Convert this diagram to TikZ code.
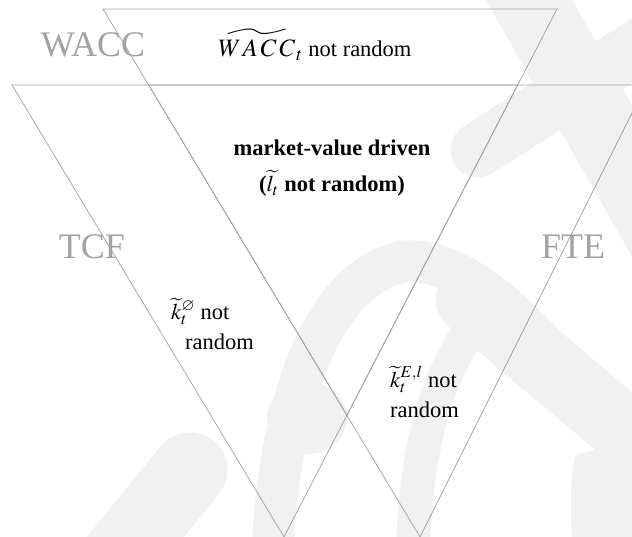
\documentclass[tikz,border=0pt]{standalone}
\usepackage{amssymb}
\usepackage{mathptmx}
\usepackage{fontspec}
\setmainfont{Liberation Serif}
\begin{document}
\definecolor{wm}{gray}{0.945}
\definecolor{edgegray}{gray}{0.64}
\definecolor{lblgray}{gray}{0.64}
\tikzset{
  tri/.style={draw=edgegray, line width=0.75pt, line join=miter},
  wmband/.style={draw=wm, line cap=round},
  biglbl/.style={text=lblgray, inner sep=0pt, anchor=base, font=\fontsize{36}{40}\selectfont},
  txt/.style={inner sep=0pt, font=\fontsize{22.5}{27}\selectfont},
}
\begin{tikzpicture}[x=1pt,y=-1pt]
\useasboundingbox (0,0) rectangle (632,537);
\begin{scope}
  \clip (0,0) rectangle (632,537);
  % faint background marks
  \draw[wmband, line width=75pt] (512,-30) -- (700,300);
  \draw[wmband, line width=55pt] (680,20) -- (478,150);
  \draw[wmband, line width=42pt] (272,560) .. controls (280,380) and (330,280) .. (400,262)
        .. controls (450,255) and (500,300) .. (540,340);
  \draw[wmband, line width=68pt] (470,300) -- (660,460);
  \fill[wm] (632,440) -- (575,455) .. controls (570,480) and (570,510) .. (572,537) -- (632,537) -- cycle;
  \fill[wm] (307,418) ellipse (40pt and 36pt);
  \draw[wmband, line width=75pt] (190,470) -- (100,580);
  \draw[wmband, line width=34pt] (412,570) .. controls (415,460) and (430,390) .. (470,330);
  % triangles
  \coordinate (wl) at (103,9);
  \coordinate (wr) at (557,9);
  \coordinate (wa) at (346.9,415.3);
  \coordinate (tl) at (12,85);
  \coordinate (tr) at (517.7,85);
  \coordinate (ta) at (284,537);
  \coordinate (fl) at (148.6,85);
  \coordinate (fr) at (646,85);
  \coordinate (fa) at (420,537);
  \draw[tri] (wl) -- (wr) -- (wa) -- cycle;
  \draw[tri] (tl) -- (tr) -- (ta) -- cycle;
  \draw[tri] (fl) -- (fr) -- (fa) -- cycle;
\end{scope}
% labels
\node[biglbl] (wacc) at (93,57) {WACC};
\node[biglbl] (tcf) at (92,259) {TCF};
\node[biglbl] (fte) at (573,259) {FTE};
\node[txt, anchor=base] (waccnr) at (315,56.5) {{\fontsize{25}{27}\selectfont$\widetilde{W\mkern1mu A\mkern2mu C\mkern2mu C}_{\mkern1mu t}$} not random};
\node[txt, anchor=base] (mv) at (332,156) {\textbf{market-value driven}};
\node[txt, anchor=base] (lt) at (332,192) {\textbf{(}$\widetilde{l}_t$\textbf{ not random)}};
\node[txt, anchor=base west] (k0a) at (171,320) {$\widetilde{k}_t^{\varnothing}$ not};
\node[txt, anchor=base west] (k0b) at (185,350) {random};
\node[txt, anchor=base west] (kEa) at (390,388) {$\widetilde{k}_t^{E,l}$ not};
\node[txt, anchor=base west] (kEb) at (390,417) {random};
\end{tikzpicture}
\end{document}
